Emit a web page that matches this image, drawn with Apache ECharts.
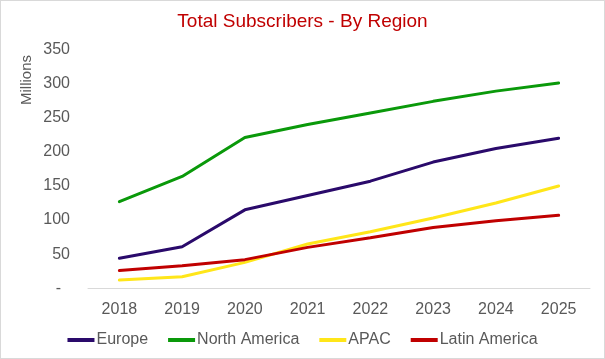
<!DOCTYPE html>
<html><head><meta charset="utf-8">
<script src="https://cdn.jsdelivr.net/npm/echarts@6/dist/echarts.min.js"></script>
<style>html,body{margin:0;padding:0;background:#fff}#c{width:605px;height:359px;position:relative}#b{position:absolute;left:0;top:0;width:605px;height:359px;box-sizing:border-box;border:1px solid #d9d9d9;pointer-events:none}</style>
</head><body><div id="c"></div><div id="b"></div>
<script>
const years = ['2018','2019','2020','2021','2022','2023','2024','2025'];
const europe = [44, 61, 115, 136, 157, 185, 205, 220];
const northAmerica = [127, 164, 221, 240, 257, 274, 289, 301];
const apac = [12, 17, 38, 65, 83, 103, 125, 150];
const latinAmerica = [26, 33, 42, 60, 74, 89, 99, 107];
const yTicks = {min: 0, max: 350, interval: 50};

const chart = echarts.init(document.getElementById('c'));
const font = 'Liberation Sans, Arial, sans-serif';
function mk(name, data, color) {
  return {name, type: 'line', data, symbol: 'none', smooth: false,
    lineStyle: {width: 3, color, cap: 'round'}, itemStyle: {color}};
}
chart.setOption({
  animation: false,
  title: {text: 'Total Subscribers - By Region', left: 'center', top: 7,
    textStyle: {color: '#c00000', fontFamily: font, fontSize: 19, fontWeight: 'normal'}},
  grid: {left: 88, right: 15, top: 49.5, bottom: 70.7, outerBoundsMode: 'none', containLabel: false},
  legend: {top: 327, left: 'center', itemWidth: 27, itemHeight: 4, itemGap: 20, icon: 'rect',
    textStyle: {color: '#595959', fontFamily: font, fontSize: 16, padding: [0, 0, 0, -3]},
    data: ['Europe', 'North America', 'APAC', 'Latin America']},
  graphic: [{type: 'text', x: 27, y: 80, rotation: Math.PI / 2,
    style: {text: 'Millions', fill: '#595959', font: '15px ' + font, align: 'center', verticalAlign: 'middle'}}],
  xAxis: {type: 'category', data: years, boundaryGap: true,
    axisLine: {lineStyle: {color: '#d9d9d9', width: 1}}, axisTick: {show: false},
    axisLabel: {color: '#595959', fontFamily: font, fontSize: 16, margin: 13}},
  yAxis: {type: 'value', min: yTicks.min, max: yTicks.max, interval: yTicks.interval,
    axisLine: {show: false}, axisTick: {show: false}, splitLine: {show: false},
    axisLabel: {color: '#595959', fontFamily: font, fontSize: 16, margin: 18,
      formatter: v => v === 0 ? '-  ' : String(v)}},
  series: [
    mk('Europe', europe, '#2a0a6b'),
    mk('North America', northAmerica, '#0a990a'),
    mk('APAC', apac, '#ffe619'),
    mk('Latin America', latinAmerica, '#c00000')
  ]
});
</script></body></html>
